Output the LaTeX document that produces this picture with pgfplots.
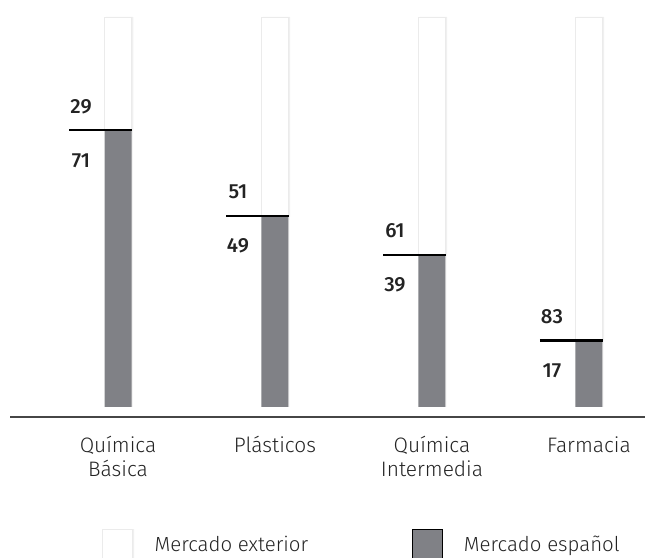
\documentclass[border=0pt]{standalone}
\usepackage{pgfplots}
\pgfplotsset{compat=1.18}
\usepackage{fontspec}
\setmainfont{Fira Sans Light}[BoldFont={Fira Sans Medium}]
\usetikzlibrary{shadows}
\definecolor{barg}{RGB}{128,129,134}
\definecolor{txt}{RGB}{35,35,35}
\definecolor{axl}{RGB}{70,70,70}
\pgfplotsset{common/.style={
  at={(10bp,141bp)}, anchor=south west,
  scale only axis, width=635bp, height=400bp,
  xmin=-0.688, xmax=3.357, ymin=-2.564, ymax=100,
  clip=false}}
\begin{document}
\begin{tikzpicture}[x=1bp,y=1bp]
\useasboundingbox (0,0) rectangle (655,558);
\begin{axis}[
  common,
  axis x line=bottom, axis y line=none,
  x axis line style={axl, line width=1.3bp, -},
  ybar stacked, bar width=27bp,
  xtick={0,1,2,3},
  xticklabels={{Química\\Básica},{Plásticos},{Química\\Intermedia},{Farmacia}},
  xticklabel style={align=center, font=\fontsize{21}{23.5}\selectfont, text=txt, anchor=north, yshift=-16bp},
  major tick length=0pt,
  legend columns=2,
  legend style={draw=none, fill=none, at={(92bp,-141bp+29bp)}, anchor=north west,
    font=\fontsize{20.5}{24}\selectfont, text=txt,
    inner sep=0pt, row sep=0pt},
  legend image code/.code={\fill[#1] (0bp,-14bp) rectangle (30bp,15bp);},
]
\addplot[fill=barg, draw=none, drop shadow={shadow xshift=1bp, shadow yshift=0bp, opacity=0.15}, forget plot]
  coordinates {(0,71) (1,49) (2,39) (3,17)};
\addplot[fill=white, draw=black!8, line width=0.6bp, drop shadow={shadow xshift=1.5bp, shadow yshift=0bp, opacity=0.12}, forget plot]
  coordinates {(0,29) (1,51) (2,61) (3,83)};
\addlegendimage{fill=white, draw=black!8, drop shadow={shadow xshift=1.5bp, shadow yshift=0bp, opacity=0.12}}
\addlegendentry{\hspace{20bp}\makebox[255bp][l]{Mercado exterior}}
\addlegendimage{fill=barg}
\addlegendentry{\hspace{20bp}Mercado español}
\end{axis}
\begin{axis}[common, axis lines=none, xtick=\empty, ytick=\empty]
% boundary lines between the two markets
\addplot[sharp plot, black, line width=2.6bp] coordinates {(-0.312,71) (0.088,71)};
\addplot[sharp plot, black, line width=2.6bp] coordinates {(0.688,49) (1.088,49)};
\addplot[sharp plot, black, line width=2.6bp] coordinates {(1.688,39) (2.088,39)};
\addplot[sharp plot, black, line width=2.6bp] coordinates {(2.688,17) (3.088,17)};
% value labels
\foreach \x/\v/\a/\b in {0/71/29/71, 1/49/51/49, 2/39/61/39, 3/17/83/17}{
  \edef\tmp{\noexpand\node[anchor=base, font=\noexpand\fontsize{20.5}{24}\noexpand\bfseries, text=txt, yshift=17bp] at (axis cs:{\x-0.236},\v) {\a};
  \noexpand\node[anchor=base, font=\noexpand\fontsize{20.5}{24}\noexpand\bfseries, text=txt, yshift=-37bp] at (axis cs:{\x-0.236},\v) {\b};}
  \tmp
}
\end{axis}
\end{tikzpicture}
\end{document}
